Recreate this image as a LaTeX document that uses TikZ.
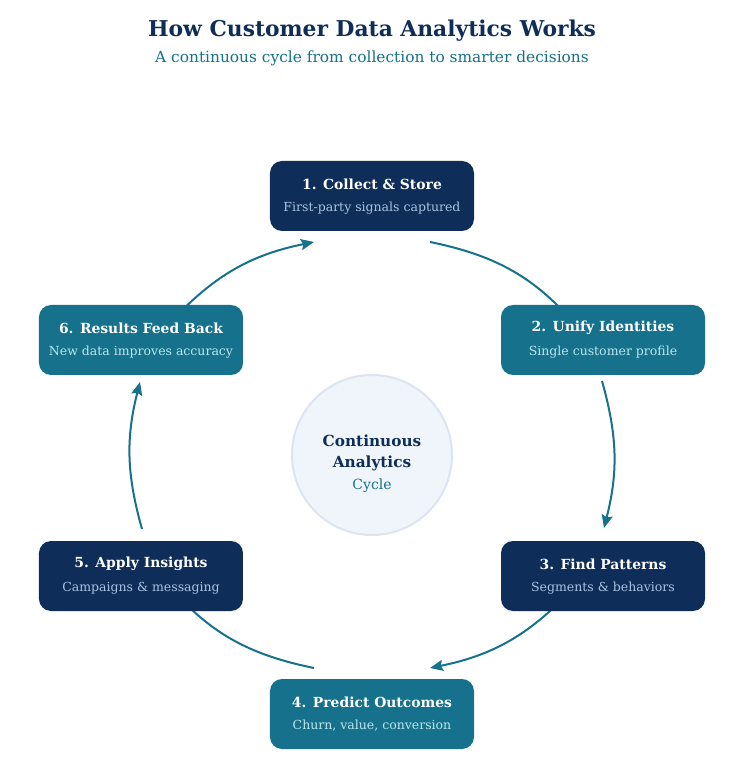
\documentclass[tikz,border=0pt]{standalone}
\usepackage{fontspec}
\setmainfont{DejaVu Serif}
\usepackage{tikz}
\usetikzlibrary{arrows.meta, positioning, backgrounds}

\definecolor{cynavy}{HTML}{0F2D59}
\definecolor{cyteal}{HTML}{15718C}
\definecolor{navysub}{HTML}{A9C3E3}
\definecolor{tealsub}{HTML}{BDE6EF}
\definecolor{hubfill}{HTML}{F0F5FC}
\definecolor{hubline}{HTML}{DDE4EF}

\begin{document}
\begin{tikzpicture}[x=1pt, y=1pt]

	\tikzset{
		navybox/.style={
				rectangle, rounded corners=12pt, fill=cynavy, draw=none, minimum width=204pt, minimum height=70pt, inner sep=0pt
			},
		tealbox/.style={
				rectangle, rounded corners=12pt, fill=cyteal, draw=none, minimum width=204pt, minimum height=70pt, inner sep=0pt
			},
		boxhead/.style={
				text=white, font=\fontsize{13.9}{16}\selectfont\bfseries, inner sep=0pt
			},
		navysubtext/.style={
				text=navysub, font=\fontsize{12.5}{15}\selectfont, inner sep=0pt
			},
		tealsubtext/.style={
				text=tealsub, font=\fontsize{12.5}{15}\selectfont, inner sep=0pt
			},
		hub/.style={
				circle, fill=hubfill, draw=hubline, line width=2pt, minimum size=160pt, inner sep=0pt
			},
		flow/.style={
				draw=cyteal, line width=2pt, -{Stealth[length=13pt, width=11pt, inset=2pt]}
			},
	}

	\useasboundingbox (-372,-316) rectangle (373,455);

	% title
	\node[text=cynavy, font=\fontsize{21.8}{25}\selectfont\bfseries] (title) at (0,424) {How Customer Data Analytics Works};
	\node[text=cyteal, font=\fontsize{15.4}{18}\selectfont] (subtitle) at (0,397) {A continuous cycle from collection to smarter decisions};

	% centre
	\node[hub] (hub) at (0,0) {};
	\node[text=cynavy, font=\fontsize{15.3}{18}\selectfont\bfseries] at (0,14) {Continuous};
	\node[text=cynavy, font=\fontsize{15.3}{18}\selectfont\bfseries] at (0,-8) {Analytics};
	\node[text=cyteal, font=\fontsize{14}{17}\selectfont] at (0,-31) {Cycle};

	% steps
	\node[navybox] (s1) at (0,259) {};
	\node[tealbox] (s2) at (231,115) {};
	\node[navybox] (s3) at (231,-121) {};
	\node[tealbox] (s4) at (0,-259) {};
	\node[navybox] (s5) at (-231,-121) {};
	\node[tealbox] (s6) at (-231,115) {};

	\node[boxhead] at ([yshift=12]s1.center) {1. Collect \& Store};
	\node[navysubtext] at ([yshift=-12]s1.center) {First-party signals captured};
	\node[boxhead] at ([yshift=12]s2.center) {2. Unify Identities};
	\node[tealsubtext] at ([yshift=-12]s2.center) {Single customer profile};
	\node[boxhead] at ([yshift=12]s3.center) {3. Find Patterns};
	\node[navysubtext] at ([yshift=-12]s3.center) {Segments \& behaviors};
	\node[boxhead] at ([yshift=12]s4.center) {4. Predict Outcomes};
	\node[tealsubtext] at ([yshift=-12]s4.center) {Churn, value, conversion};
	\node[boxhead] at ([yshift=12]s5.center) {5. Apply Insights};
	\node[navysubtext] at ([yshift=-12]s5.center) {Campaigns \& messaging};
	\node[boxhead] at ([yshift=12]s6.center) {6. Results Feed Back};
	\node[tealsubtext] at ([yshift=-12]s6.center) {New data improves accuracy};

	% arc ends
	\coordinate (p12) at (58,213);
	\coordinate (q12) at (203,131);
	\coordinate (p23) at (230,74);
	\coordinate (q23) at (232,-73);
	\coordinate (p34) at (203,-131);
	\coordinate (q34) at (58,-213);
	\coordinate (p45) at (-58,-213);
	\coordinate (q45) at (-203,-131);
	\coordinate (p56) at (-230,-74);
	\coordinate (q56) at (-232,73);
	\coordinate (p61) at (-203,131);
	\coordinate (q61) at (-58,213);

	\begin{pgfonlayer}{background}
		\draw[flow] (p12) to[bend left=18] (q12);
		\draw[flow] (p23) to[bend left=15] (q23);
		\draw[flow] (p34) to[bend left=18] (q34);
		\draw[flow] (p45) to[bend left=18] (q45);
		\draw[flow] (p56) to[bend left=15] (q56);
		\draw[flow] (p61) to[bend left=18] (q61);
	\end{pgfonlayer}
\end{tikzpicture}
\end{document}
